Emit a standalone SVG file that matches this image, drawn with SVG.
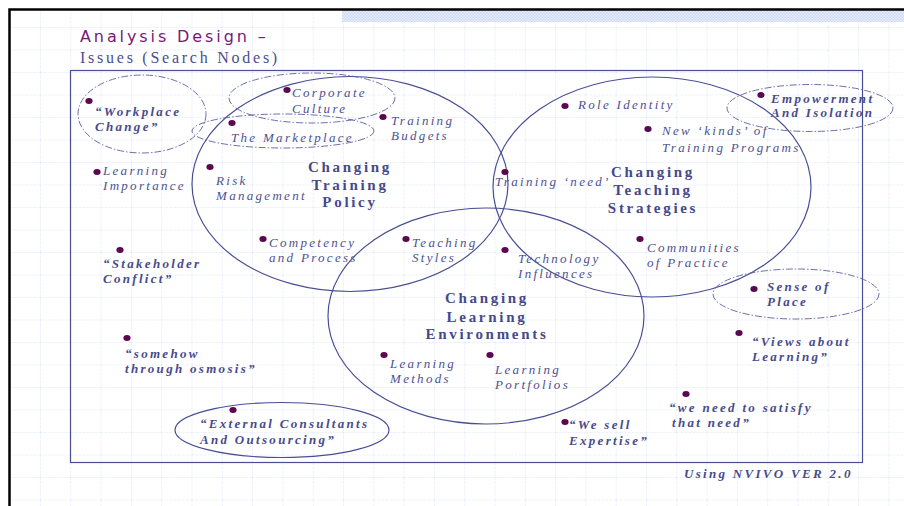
<svg xmlns="http://www.w3.org/2000/svg" width="904" height="506" viewBox="0 0 904 506">
  <defs>
    <pattern id="grid" x="9.7" y="4.5" width="30.3" height="22.5" patternUnits="userSpaceOnUse">
      <path d="M0 0V22.5M0 0H30.3" fill="none" stroke="#dce3f8" stroke-width="1" stroke-dasharray="3 1"/>
    </pattern>
    <pattern id="hatch" width="3" height="3" patternUnits="userSpaceOnUse">
      <rect width="3" height="3" fill="#e8eefb"/>
      <rect width="1.5" height="1.5" fill="#cdd9f4"/>
      <rect x="1.5" y="1.5" width="1.5" height="1.5" fill="#cdd9f4"/>
    </pattern>
    <style>
      .lbl { font-family: "Liberation Serif", "Times New Roman", serif; font-style: italic; font-size: 13px; letter-spacing: 2.3px; fill: #4d5191; }
      .lblb { font-family: "Liberation Serif", "Times New Roman", serif; font-style: italic; font-weight: bold; font-size: 13px; letter-spacing: 2.3px; fill: #474b8c; }
      .head { font-family: "Liberation Serif", "Times New Roman", serif; font-weight: bold; font-size: 15px; letter-spacing: 2.7px; fill: #45498a; text-anchor: middle; }
      .dot { fill: #5a0850; }
      .set { fill: none; stroke: #4a4f95; stroke-width: 1.2; }
      .grp { fill: none; stroke: #5a5fa0; stroke-width: 0.9; stroke-dasharray: 7 2 1.5 2; }
    </style>
  </defs>

  <!-- page background, grid and frame -->
  <rect width="904" height="506" fill="#ffffff"/>
  <rect x="10" y="10" width="894" height="496" fill="url(#grid)"/>
  <rect x="342" y="10" width="562" height="12" fill="url(#hatch)"/>
  <path d="M9.5 506V9.5H904" fill="none" stroke="#000" stroke-width="2.5"/>

  <!-- title -->
  <text x="80" y="42" font-family="'DejaVu Sans', Verdana, sans-serif" font-size="16" letter-spacing="2.9" fill="#7a1878">Analysis Design –</text>
  <text x="80" y="63" font-family="'Liberation Serif', 'Times New Roman', serif" font-size="16" letter-spacing="2.75" fill="#4a4e8e">Issues (Search Nodes)</text>

  <!-- outer boundary -->
  <rect x="70.5" y="70.5" width="792" height="392" fill="none" stroke="#4a4f95" stroke-width="1.2"/>

  <!-- connectors: set outlines and groupings -->
  <g id="connectors">
    <ellipse class="set" cx="350" cy="184" rx="158" ry="107.5"/>
    <ellipse class="set" cx="652" cy="187" rx="159" ry="110"/>
    <ellipse class="set" cx="486" cy="316" rx="158" ry="108"/>
    <ellipse class="grp" cx="142" cy="114" rx="64" ry="39"/>
    <ellipse class="grp" cx="312" cy="98" rx="83" ry="25"/>
    <ellipse class="grp" cx="283" cy="131" rx="91" ry="17"/>
    <ellipse class="grp" cx="810" cy="108" rx="83" ry="23.5"/>
    <ellipse class="grp" cx="796" cy="294" rx="83" ry="25"/>
    <ellipse class="set" cx="282" cy="430" rx="107" ry="27.5"/>
  </g>

  <!-- set headings -->
  <g id="policy">
    <text class="head"><tspan x="350" y="172">Changing</tspan><tspan x="350" y="190">Training</tspan><tspan x="350" y="207">Policy</tspan></text>
  </g>
  <g id="teaching">
    <text class="head"><tspan x="653" y="177">Changing</tspan><tspan x="653" y="195">Teaching</tspan><tspan x="653" y="213">Strategies</tspan></text>
  </g>
  <g id="learning">
    <text class="head"><tspan x="487" y="303">Changing</tspan><tspan x="487" y="322">Learning</tspan><tspan x="487" y="339">Environments</tspan></text>
  </g>

  <!-- issue nodes -->
  <g id="workplace-change">
    <ellipse class="dot" cx="89" cy="101" rx="3.6" ry="2.9"/>
    <text class="lblb"><tspan x="95" y="116">“Workplace</tspan><tspan x="95" y="131">Change”</tspan></text>
  </g>
  <g id="corporate-culture">
    <ellipse class="dot" cx="287" cy="90" rx="3.6" ry="2.9"/>
    <text class="lbl"><tspan x="292" y="97">Corporate</tspan><tspan x="292" y="113">Culture</tspan></text>
  </g>
  <g id="marketplace">
    <ellipse class="dot" cx="232" cy="123" rx="3.6" ry="2.9"/>
    <text class="lbl" x="231" y="142">The Marketplace</text>
  </g>
  <g id="training-budgets">
    <ellipse class="dot" cx="383" cy="117" rx="3.6" ry="2.9"/>
    <text class="lbl"><tspan x="391" y="125">Training</tspan><tspan x="391" y="140">Budgets</tspan></text>
  </g>
  <g id="learning-importance">
    <ellipse class="dot" cx="97" cy="172" rx="3.6" ry="2.9"/>
    <text class="lbl"><tspan x="103" y="175">Learning</tspan><tspan x="103" y="190">Importance</tspan></text>
  </g>
  <g id="risk-management">
    <ellipse class="dot" cx="210" cy="167" rx="3.6" ry="2.9"/>
    <text class="lbl"><tspan x="216" y="185">Risk</tspan><tspan x="216" y="200">Management</tspan></text>
  </g>
  <g id="competency">
    <ellipse class="dot" cx="263" cy="239" rx="3.6" ry="2.9"/>
    <text class="lbl"><tspan x="269" y="247">Competency</tspan><tspan x="269" y="262">and Process</tspan></text>
  </g>
  <g id="stakeholder">
    <ellipse class="dot" cx="120" cy="250" rx="3.6" ry="2.9"/>
    <text class="lblb"><tspan x="103" y="268">“Stakeholder</tspan><tspan x="103" y="283">Conflict”</tspan></text>
  </g>
  <g id="osmosis">
    <ellipse class="dot" cx="127" cy="338" rx="3.6" ry="2.9"/>
    <text class="lblb"><tspan x="125" y="358">“somehow</tspan><tspan x="125" y="373">through osmosis”</tspan></text>
  </g>
  <g id="training-need">
    <ellipse class="dot" cx="505" cy="172" rx="3.6" ry="2.9"/>
    <text class="lbl" x="495" y="186">Training ‘need’</text>
  </g>
  <g id="role-identity">
    <ellipse class="dot" cx="565" cy="106" rx="3.6" ry="2.9"/>
    <text class="lbl" x="578" y="109">Role Identity</text>
  </g>
  <g id="new-kinds">
    <ellipse class="dot" cx="648" cy="129" rx="3.6" ry="2.9"/>
    <text class="lbl"><tspan x="662" y="135">New ‘kinds’ of</tspan><tspan x="662" y="152">Training Programs</tspan></text>
  </g>
  <g id="empowerment">
    <ellipse class="dot" cx="761" cy="95" rx="3.6" ry="2.9"/>
    <text class="lblb"><tspan x="771" y="103">Empowerment</tspan><tspan x="771" y="117">And Isolation</tspan></text>
  </g>
  <g id="communities">
    <ellipse class="dot" cx="640" cy="239" rx="3.6" ry="2.9"/>
    <text class="lbl"><tspan x="647" y="252">Communities</tspan><tspan x="647" y="267">of Practice</tspan></text>
  </g>
  <g id="teaching-styles">
    <ellipse class="dot" cx="406" cy="239" rx="3.6" ry="2.9"/>
    <text class="lbl"><tspan x="412" y="247">Teaching</tspan><tspan x="412" y="262">Styles</tspan></text>
  </g>
  <g id="technology">
    <ellipse class="dot" cx="505" cy="250" rx="3.6" ry="2.9"/>
    <text class="lbl"><tspan x="518" y="263">Technology</tspan><tspan x="518" y="278">Influences</tspan></text>
  </g>
  <g id="learning-methods">
    <ellipse class="dot" cx="384" cy="355" rx="3.6" ry="2.9"/>
    <text class="lbl"><tspan x="390" y="368">Learning</tspan><tspan x="390" y="383">Methods</tspan></text>
  </g>
  <g id="learning-portfolios">
    <ellipse class="dot" cx="490" cy="355" rx="3.6" ry="2.9"/>
    <text class="lbl"><tspan x="495" y="374">Learning</tspan><tspan x="495" y="389">Portfolios</tspan></text>
  </g>
  <g id="sense-of-place">
    <ellipse class="dot" cx="754" cy="289" rx="3.6" ry="2.9"/>
    <text class="lblb"><tspan x="767" y="291">Sense of</tspan><tspan x="767" y="306">Place</tspan></text>
  </g>
  <g id="views-about-learning">
    <ellipse class="dot" cx="739" cy="333" rx="3.6" ry="2.9"/>
    <text class="lblb"><tspan x="752" y="346">“Views about</tspan><tspan x="752" y="361">Learning”</tspan></text>
  </g>
  <g id="satisfy-need">
    <ellipse class="dot" cx="686" cy="394" rx="3.6" ry="2.9"/>
    <text class="lblb"><tspan x="669" y="412">“we need to satisfy</tspan><tspan x="672" y="427">that need”</tspan></text>
  </g>
  <g id="external-consultants">
    <ellipse class="dot" cx="233" cy="410" rx="3.6" ry="2.9"/>
    <text class="lblb"><tspan x="200" y="428">“External Consultants</tspan><tspan x="200" y="444">And Outsourcing”</tspan></text>
  </g>
  <g id="we-sell-expertise">
    <ellipse class="dot" cx="565" cy="422" rx="3.6" ry="2.9"/>
    <text class="lblb"><tspan x="569" y="429">“We sell</tspan><tspan x="569" y="445">Expertise”</tspan></text>
  </g>

  <!-- footer -->
  <text class="lblb" x="684" y="478">Using NVIVO VER 2.0</text>
</svg>
